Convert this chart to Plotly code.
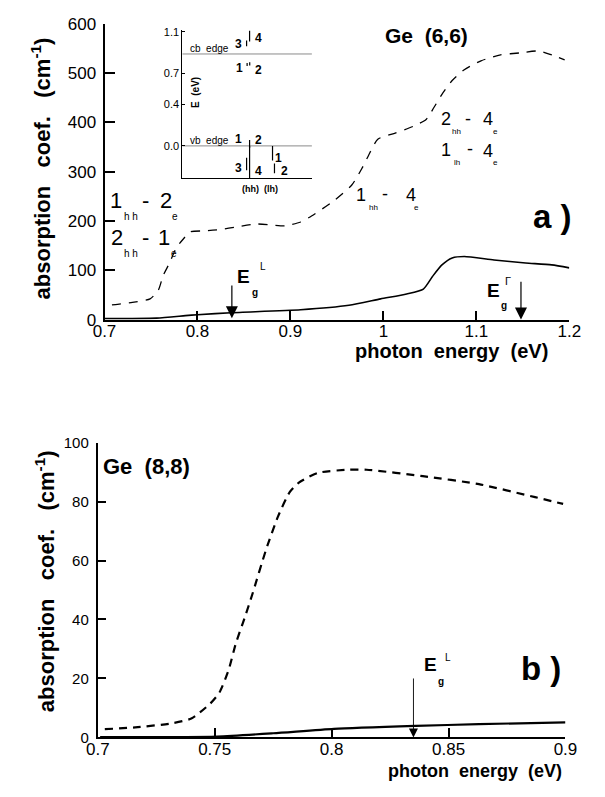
import plotly.graph_objects as go

W, H = 605, 797
OFF = 8  # page body margin of the browser
FONT = "Liberation Sans, Arial, Helvetica, sans-serif"

# ---------------- Panel a) Ge (6,6) ----------------
a_dash_E = [0.708, 0.714, 0.730, 0.749, 0.758, 0.763, 0.770, 0.777, 0.785, 0.792, 0.808, 0.825,
            0.842, 0.863, 0.880, 0.894, 0.911, 0.920, 0.946, 0.966, 0.977, 0.984, 0.994, 1.012,
            1.032, 1.046, 1.053, 1.063, 1.074, 1.087, 1.105, 1.126, 1.147, 1.167, 1.181, 1.195]
a_dash_alpha = [30, 31, 35, 42, 60, 89, 115, 145, 164, 178, 180, 183,
                188, 194, 192, 190, 198, 207, 240, 273, 307, 333, 366, 378,
                392, 406, 426, 457, 485, 507, 525, 537, 541, 545, 537, 527]
a_solid_E = [0.700, 0.756, 0.787, 0.800, 0.836, 0.911, 0.963, 0.997, 1.025, 1.043, 1.053,
             1.063, 1.074, 1.087, 1.119, 1.153, 1.181, 1.200]
a_solid_alpha = [2, 3, 8, 10, 14, 20, 29, 42, 52, 62, 88,
                 111, 125, 128, 121, 115, 111, 105]
a_xticks = [0.7, 0.8, 0.9, 1.0, 1.1, 1.2]
a_xticklabels = ["0.7", "0.8", "0.9", "1", "1.1", "1.2"]
a_yticks = [0, 100, 200, 300, 400, 500, 600]
a_yticklabels = ["0", "100", "200", "300", "400", "500", "600"]
a_EgL = 0.837
a_EgGamma = 1.148

# ---------------- Panel b) Ge (8,8) ----------------
b_dash_E = [0.703, 0.716, 0.731, 0.740, 0.748, 0.752, 0.756, 0.759, 0.763, 0.766, 0.772, 0.777,
            0.782, 0.786, 0.794, 0.807, 0.815, 0.839, 0.863, 0.887, 0.899]
b_dash_alpha = [2.8, 3.4, 4.7, 6.4, 11.4, 15.2, 23.0, 31.8, 41.0, 48.3, 63.8, 74.8,
                83.1, 86.4, 89.7, 90.8, 90.8, 88.6, 85.9, 81.5, 79.2]
b_solid_E = [0.701, 0.751, 0.775, 0.801, 0.836, 0.863, 0.900]
b_solid_alpha = [0.1, 0.3, 1.4, 2.9, 3.9, 4.5, 5.1]
b_xticks = [0.7, 0.75, 0.8, 0.85, 0.9]
b_xticklabels = ["0.7", "0.75", "0.8", "0.85", "0.9"]
b_yticks = [0, 20, 40, 60, 80, 100]
b_yticklabels = ["0", "20", "40", "60", "80", "100"]
b_EgL = 0.835

# ---------------- Inset: level scheme ----------------
inset_ticks = [0.0, 0.4, 0.7, 1.1]
inset_ticklabels = ["0.0", "0.4", "0.7", "1.1"]
inset_cb_edge = 0.886
inset_vb_edge = 0.0
inset_bar_x = [0.496, 0.519, 0.500, 0.520, 0.519, 0.496, 0.519, 0.696, 0.711]
inset_bar_lo = [0.960, 1.006, 0.770, 0.775, -0.020, -0.235, -0.310, -0.141, -0.263]
inset_bar_hi = [1.015, 1.109, 0.800, 0.805, 0.056, -0.113, 0.000, 0.000, -0.169]
inset_lab_text = ["3", "4", "1", "2", "1", "2", "3", "4", "1", "2"]
inset_lab_x = [0.43, 0.585, 0.445, 0.585, 0.43, 0.585, 0.43, 0.585, 0.745, 0.790]
inset_lab_E = [0.985, 1.040, 0.750, 0.735, 0.066, 0.056, -0.216, -0.244, -0.113, -0.244]


def px(x):
    return (x - OFF) / W


def py(y):
    return 1 - (y - OFF) / H


fig = go.Figure()

# panel a traces
fig.add_trace(go.Scatter(x=a_dash_E, y=a_dash_alpha, mode="lines", xaxis="x", yaxis="y",
                         line=dict(color="black", width=1.3, dash="9px,8px", shape="spline", smoothing=0.6),
                         showlegend=False, hoverinfo="skip"))
fig.add_trace(go.Scatter(x=a_solid_E, y=a_solid_alpha, mode="lines", xaxis="x", yaxis="y",
                         line=dict(color="black", width=1.6, shape="spline", smoothing=0.6),
                         showlegend=False, hoverinfo="skip"))

# panel b traces
fig.add_trace(go.Scatter(x=b_dash_E, y=b_dash_alpha, mode="lines", xaxis="x2", yaxis="y2",
                         line=dict(color="black", width=2.2, dash="8px,6px", shape="spline", smoothing=0.6),
                         showlegend=False, hoverinfo="skip"))
fig.add_trace(go.Scatter(x=b_solid_E, y=b_solid_alpha, mode="lines", xaxis="x2", yaxis="y2",
                         line=dict(color="black", width=2.2, shape="spline", smoothing=0.6),
                         showlegend=False, hoverinfo="skip"))

# inset edges
for e in (inset_cb_edge, inset_vb_edge):
    fig.add_trace(go.Scatter(x=[0, 1], y=[e, e], mode="lines", xaxis="x3", yaxis="y3",
                             line=dict(color="#8a8a8a", width=1), showlegend=False, hoverinfo="skip"))
bx, by = [], []
for xx, lo, hi in zip(inset_bar_x, inset_bar_lo, inset_bar_hi):
    bx += [xx, xx, None]
    by += [lo, hi, None]
fig.add_trace(go.Scatter(x=bx, y=by, mode="lines", xaxis="x3", yaxis="y3",
                         line=dict(color="black", width=1.2), showlegend=False, hoverinfo="skip"))

axis_common = dict(showline=True, linecolor="black", linewidth=2, ticks="inside",
                   tickcolor="black", tickwidth=2, showgrid=False, zeroline=False,
                   tickfont=dict(family=FONT, size=17, color="black"), tickmode="array")

fig.update_layout(
    width=W, height=H, margin=dict(l=0, r=0, t=0, b=0),
    paper_bgcolor="white", plot_bgcolor="rgba(0,0,0,0)",
    showlegend=False,
    xaxis=dict(axis_common, domain=[px(96), px(580)], range=[0.7, 1.2], anchor="y",
               tickvals=a_xticks, ticktext=a_xticklabels, ticklen=9, ticklabelstandoff=-5),
    yaxis=dict(axis_common, domain=[py(318), py(15)], range=[0, 600], anchor="x",
               tickvals=a_yticks, ticktext=a_yticklabels, ticklen=10, ticklabelstandoff=3),
    xaxis2=dict(axis_common, domain=[px(89), px(576)], range=[0.7, 0.9], anchor="y2",
                tickvals=b_xticks, ticktext=b_xticklabels, ticklen=9, ticklabelstandoff=-5),
    yaxis2=dict(axis_common, domain=[py(746), py(444)], range=[0, 100], anchor="x2",
                tickvals=b_yticks, ticktext=b_yticklabels, ticklen=8, ticklabelstandoff=4,
                tickfont=dict(family=FONT, size=15, color="black")),
    xaxis3=dict(domain=[px(177), px(312)], range=[0, 1], anchor="y3", showline=True,
                linecolor="black", linewidth=1, showticklabels=False, ticks="",
                showgrid=False, zeroline=False),
    yaxis3=dict(domain=[py(173), py(21)], range=[-0.31, 1.12], anchor="x3", showline=True,
                linecolor="black", linewidth=1, ticks="inside", ticklen=3, tickcolor="black",
                tickmode="array", tickvals=inset_ticks, ticktext=inset_ticklabels,
                tickfont=dict(family=FONT, size=11, color="black"), showgrid=False, zeroline=False),
)

ann = []


def txt(text, x, y, size, bold=False, xanchor="center", yanchor="middle", angle=0, xref="paper", yref="paper"):
    t = "<b>%s</b>" % text if bold else text
    ann.append(dict(text=t, x=x, y=y, xref=xref, yref=yref, showarrow=False,
                    xanchor=xanchor, yanchor=yanchor, textangle=angle,
                    font=dict(family=FONT, size=size, color="black")))


# axis titles
ytitle = "absorption   coef.   (cm<sup>-1</sup>)"
txt(ytitle, px(30), py(163), 22, bold=True, angle=-90)
txt(ytitle, px(34), py(586), 22, bold=True, angle=-90)
txt("photon  energy  (eV)", px(560), py(350), 20, bold=True, xanchor="right")
txt("photon  energy  (eV)", px(574), py(780), 18, bold=True, xanchor="right")

# panel titles
txt("Ge  (6,6)", px(431), py(27), 21, bold=True)
txt("Ge  (8,8)", px(140), py(468), 22, bold=True)
txt("a )", px(563), py(212), 33, bold=True)
txt("b )", px(551), py(675), 33, bold=True)


# transition labels: (text, x_px, y_px, is_subscript)
def trans(parts, main_size, sub_size):
    for t, x, y, is_sub in parts:
        txt(t, px(x), py(y), sub_size if is_sub else main_size)


trans([("1", 108, 196, False), ("h h", 124, 212, True), ("-", 139, 196, False),
       ("2", 160, 196, False), ("e", 169, 212, True)], 22, 10)
trans([("2", 109, 234, False), ("h h", 124, 250, True), ("-", 139, 234, False),
       ("1", 158, 234, False), ("e", 168, 250, True)], 22, 10)
trans([("1", 363, 190, False), ("hh", 376, 203, True), ("-", 388, 189, False),
       ("4", 415, 190, False), ("e", 421, 203, True)], 18, 8)
trans([("2", 452, 113, False), ("hh", 463, 125, True), ("-", 474, 112, False),
       ("4", 495, 113, False), ("e", 503, 125, True)], 18, 8)
trans([("1", 452, 144, False), ("lh", 463, 157, True), ("-", 477, 143, False),
       ("4", 495, 145, False), ("e", 503, 157, True)], 18, 8)

# Eg labels
txt("E", px(241), py(274), 19, bold=True)
txt("g", px(253), py(290), 10, bold=True)
txt("L", px(261), py(264), 10)
txt("E", px(501), py(288), 19, bold=True)
txt("g", px(512), py(304), 10, bold=True)
txt("Γ", px(516), py(278), 11)
txt("E", px(435), py(671), 19, bold=True)
txt("g", px(446), py(689), 10, bold=True)
txt("L", px(454), py(664), 10)

# inset texts
txt("cb  edge", 0.207, 0.94, 10, xref="x3", yref="y3")
txt("vb  edge", 0.207, 0.05, 10, xref="x3", yref="y3")
for t, xx, ee in zip(inset_lab_text, inset_lab_x, inset_lab_E):
    txt(t, xx, ee, 12, bold=True, xref="x3", yref="y3")
txt("E  (eV)", px(190), py(85), 10, bold=True, angle=-90)
txt("(hh)  (lh)", px(258), py(184), 9, bold=True)

# arrows
arrows = [("x", "y", a_EgL, 3, 72, 1.2), ("x", "y", a_EgGamma, 0, 80, 1.2), ("x2", "y2", b_EgL, 0, 20.5, 0.9)]
for xr, yr, xv, tip, tail, wd in arrows:
    ann.append(dict(x=xv, y=tip, ax=xv, ay=tail, xref=xr, yref=yr, axref=xr, ayref=yr,
                    text="", showarrow=True, arrowhead=2, arrowsize=2.0, arrowwidth=wd,
                    arrowcolor="black", standoff=0, startstandoff=0))

fig.update_layout(annotations=ann)
fig.write_html("out.html")
